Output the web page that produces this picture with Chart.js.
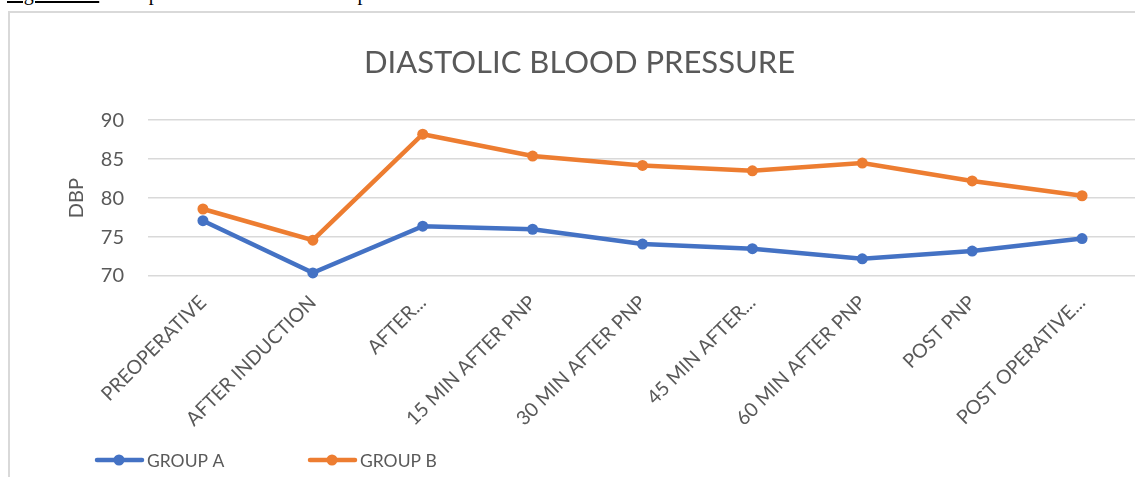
<!DOCTYPE html>
<html><head><meta charset="utf-8">
<script src="https://cdn.jsdelivr.net/npm/chart.js@4.4.0/dist/chart.umd.min.js"></script>
<style>
html,body{margin:0;padding:0;background:#fff;overflow:hidden;width:1135px;height:477px;}
#caption{position:absolute;left:7px;top:-17px;font:20px/20px "Liberation Serif",serif;color:#000;white-space:nowrap;}
#frame{position:absolute;left:8px;top:11px;width:1300px;height:600px;border-left:2px solid #d9d9d9;border-top:2px solid #d9d9d9;}
#wrap{position:absolute;left:0;top:0;width:1150px;height:477px;}
</style></head><body>
<div id="caption"><u>Figure 4.10</u>: Comparison of diastolic blood pressure</div>
<div id="frame"></div>
<div id="wrap"><canvas id="c"></canvas></div>
<script>
const categories = ["PREOPERATIVE","AFTER INDUCTION","AFTER...","15 MIN AFTER PNP","30 MIN AFTER PNP","45 MIN AFTER...","60 MIN AFTER PNP","POST PNP","POST OPERATIVE..."];
const groupA = [77.1,70.4,76.4,76.0,74.1,73.5,72.2,73.2,74.8];
const groupB = [78.6,74.6,88.2,85.4,84.2,83.5,84.5,82.2,80.3];
const yTicks = [70,75,80,85,90];
const seriesNames = ["GROUP A","GROUP B"];
const seriesColors = ["#4472C4","#ED7D31"];
const chartTitle = "DIASTOLIC BLOOD PRESSURE";
const yTitle = "DBP";

const legendPlugin = {
  id: 'customLegend',
  afterDraw(chart) {
    const ctx = chart.ctx;
    const y = 460;
    const starts = [95, 308];
    chart.data.datasets.forEach((ds, i) => {
      const x0 = starts[i];
      ctx.save();
      ctx.strokeStyle = ds.borderColor;
      ctx.lineWidth = 4.5;
      ctx.lineCap = 'round';
      ctx.beginPath(); ctx.moveTo(x0 + 2, y); ctx.lineTo(x0 + 47, y); ctx.stroke();
      ctx.fillStyle = ds.borderColor;
      ctx.beginPath(); ctx.arc(x0 + 24, y, 5.5, 0, Math.PI * 2); ctx.fill();
      ctx.fillStyle = '#595959';
      ctx.font = '17.5px Lato';
      ctx.textBaseline = 'middle';
      ctx.textAlign = 'left';
      ctx.fillText(ds.label, x0 + 52, y + 1);
      ctx.restore();
    });
  }
};

const mkDs = (i, data) => ({
  label: seriesNames[i],
  data: data,
  borderColor: seriesColors[i],
  backgroundColor: seriesColors[i],
  borderWidth: 4.5,
  pointRadius: 5.5,
  pointHoverRadius: 5.5,
  pointBorderWidth: 0,
  tension: 0,
  clip: false
});

new Chart(document.getElementById('c'), {
  type: 'line',
  data: { labels: categories, datasets: [mkDs(0, groupA), mkDs(1, groupB)] },
  options: {
    responsive: true,
    maintainAspectRatio: false,
    animation: false,
    layout: { padding: { left: 22, right: 13, top: 0, bottom: 0 } },
    plugins: {
      legend: { display: false },
      tooltip: { enabled: false },
      title: {
        display: true,
        text: chartTitle,
        color: '#595959',
        font: { family: 'Lato', size: 31, weight: 'normal', lineHeight: 1.2 },
        padding: { top: 44, bottom: 39 }
      }
    },
    scales: {
      x: {
        offset: true,
        grid: { display: false, drawTicks: false },
        border: { display: false },
        ticks: {
          minRotation: 45, maxRotation: 45, autoSkip: false,
          color: '#595959', font: { family: 'Lato', size: 19.5 }, padding: 15
        },
        afterFit(s) { s.height = 201; }
      },
      y: {
        min: 70, max: 90,
        afterBuildTicks(s) { s.ticks = yTicks.map(v => ({ value: v })); },
        grid: { color: '#d9d9d9', lineWidth: 1.5, drawTicks: false },
        border: { display: false },
        ticks: { color: '#595959', font: { family: 'Lato', size: 20 }, padding: 24 },
        title: {
          display: true, text: yTitle, color: '#595959',
          font: { family: 'Lato', size: 20 }, padding: { top: 43, bottom: 0 }
        },
        afterFit(s) { s.width = 126; }
      }
    }
  },
  plugins: [legendPlugin]
});
</script>
</body></html>
